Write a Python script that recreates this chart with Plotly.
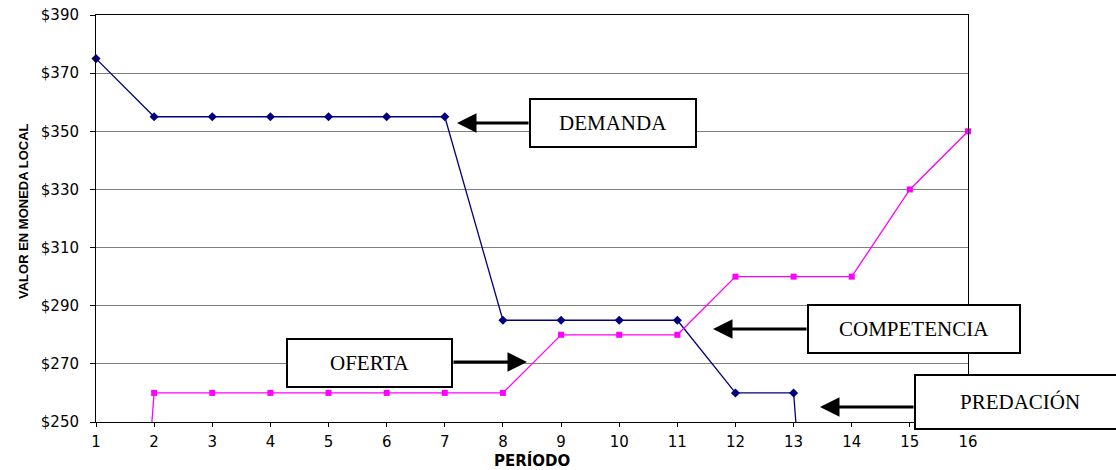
import plotly.graph_objects as go

# Periods and series values
periodos = list(range(1, 17))
demanda = [375, 355, 355, 355, 355, 355, 355, 285, 285, 285, 285, 260, 260, 0]
oferta = [0, 260, 260, 260, 260, 260, 260, 260, 280, 280, 280, 300, 300, 300, 330, 350]
y_ticks = [250, 270, 290, 310, 330, 350, 370, 390]

# Figure geometry (pixels)
FIG_W, FIG_H = 1116, 470
PL, PR, PT, PB = 96, 968, 15, 422


def px(x):
    return (x - PL) / (PR - PL)


def py(y):
    return (PB - y) / (PB - PT)


fig = go.Figure()

fig.add_trace(go.Scatter(
    x=periodos[:len(demanda)], y=demanda, mode="lines+markers", name="Demanda",
    line=dict(color="#000080", width=1.3),
    marker=dict(symbol="diamond", size=7, color="#000080"),
    cliponaxis=False,
))
fig.add_trace(go.Scatter(
    x=periodos[:len(oferta)], y=oferta, mode="lines+markers", name="Oferta",
    line=dict(color="#FF00FF", width=1.3),
    marker=dict(symbol="square", size=6, color="#FF00FF"),
    cliponaxis=False,
))

fig.update_layout(
    width=FIG_W, height=FIG_H,
    margin=dict(l=PL, r=FIG_W - PR, t=PT, b=FIG_H - PB, autoexpand=False),
    paper_bgcolor="white", plot_bgcolor="white",
    showlegend=False,
    font=dict(family="DejaVu Sans", size=15, color="black"),
)
fig.update_xaxes(
    range=[1, 16], tickvals=periodos, ticktext=[str(p) for p in periodos],
    showgrid=False, zeroline=False,
    showline=True, linecolor="black", linewidth=1, mirror=True,
    ticks="outside", ticklen=4, tickcolor="black", ticklabelstandoff=2,
    tickfont=dict(family="DejaVu Sans", size=15),
)
fig.update_yaxes(
    range=[250, 390], tickvals=y_ticks, ticktext=[f"${v}" for v in y_ticks],
    showgrid=True, gridcolor="#808080", gridwidth=1, zeroline=False,
    showline=True, linecolor="black", linewidth=1, mirror=True,
    ticks="outside", ticklen=5, tickcolor="black", ticklabelstandoff=8,
    tickfont=dict(family="DejaVu Sans", size=15),
)

# Axis titles
fig.add_annotation(
    text="<b>VALOR EN MONEDA LOCAL</b>", textangle=-90,
    xref="paper", yref="paper", x=px(23), y=py(211), showarrow=False,
    xanchor="center", yanchor="middle",
    font=dict(family="Liberation Sans", size=13, color="black"),
)
fig.add_annotation(
    text="<b>PERÍODO</b>",
    xref="paper", yref="paper", x=px(532), y=py(460), showarrow=False,
    xanchor="center", yanchor="middle",
    font=dict(family="DejaVu Sans", size=15, color="black"),
)

# Labelled boxes with arrows: (text, box left, top, right, bottom, arrow y, arrow tip x)
boxes = [
    ("DEMANDA", 530, 99, 696, 147, 123, 457),
    ("COMPETENCIA", 808, 305, 1020, 353, 329, 713),
    ("PREDACIÓN", 915, 375, 1140, 429, 407, 820),
    ("OFERTA", 287, 339, 452, 387, 362, 527),
]
for text, x0, y0, x1, y1, ay, tip in boxes:
    start = x0 if tip < x0 else x1
    fig.add_annotation(
        text="", xref="paper", yref="paper", axref="pixel", ayref="pixel",
        x=px(tip), y=py(ay), ax=start - tip, ay=0,
        showarrow=True, arrowhead=2, arrowsize=1.3, arrowwidth=3,
        arrowcolor="black", standoff=0, startstandoff=0,
    )
    fig.add_shape(
        type="rect", xref="paper", yref="paper",
        x0=px(x0), x1=px(x1), y0=py(y1), y1=py(y0),
        line=dict(color="black", width=2), fillcolor="white", layer="above",
    )
    cx = (x0 + 1125) / 2 if x1 > FIG_W else (x0 + x1) / 2
    fig.add_annotation(
        text=text, xref="paper", yref="paper",
        x=px(cx), y=py((y0 + y1) / 2), showarrow=False,
        xanchor="center", yanchor="middle",
        font=dict(family="Liberation Serif", size=21, color="black"),
    )

fig.write_html("out.html")
